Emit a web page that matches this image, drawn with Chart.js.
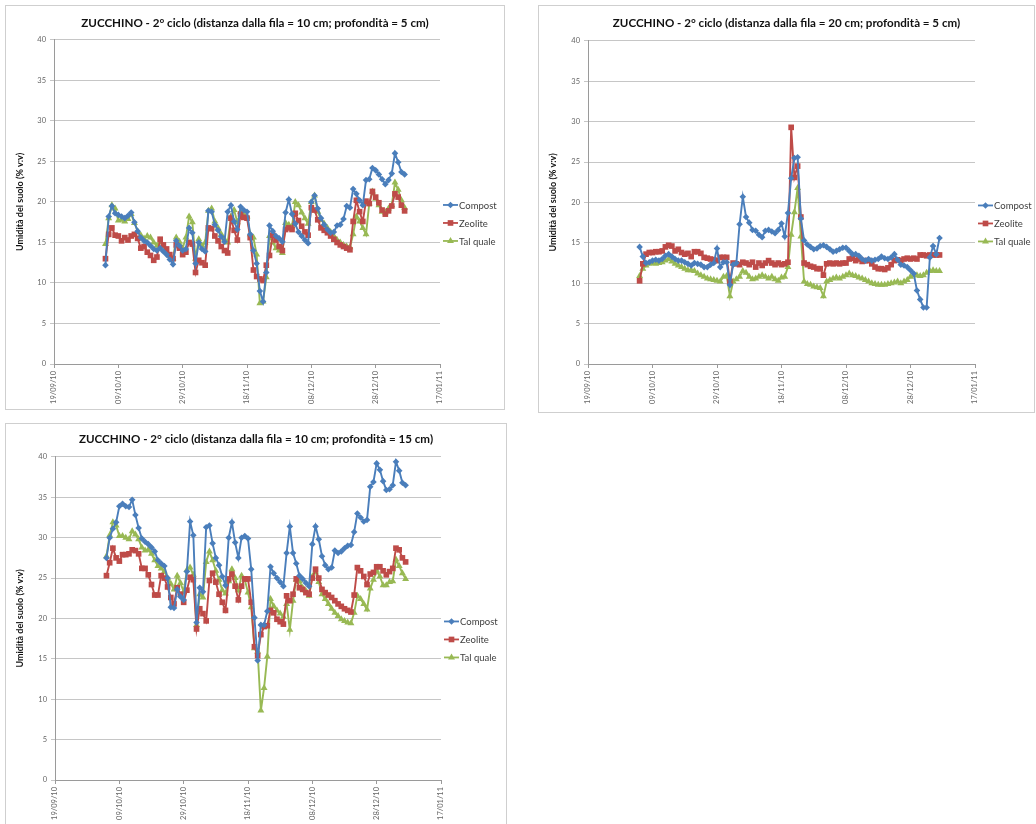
<!DOCTYPE html>
<html>
<head>
<meta charset="utf-8">
<script src="https://cdn.jsdelivr.net/npm/chart.js"></script>
<style>
  body { margin: 0; width: 1036px; height: 824px; overflow: hidden; background: #fff; position: relative; }
  .panel { position: absolute; border: 1px solid #cfcfcf; box-sizing: border-box; background: #fff; }
  .panel canvas { position: absolute; left: 0; top: 0; }
</style>
</head>
<body>
<div class="panel" style="left:5px;top:5px;width:500px;height:405px"><canvas id="c1" width="498" height="403"></canvas></div>
<div class="panel" style="left:538px;top:5px;width:497px;height:408px"><canvas id="c2" width="495" height="406"></canvas></div>
<div class="panel" style="left:5px;top:423px;width:502px;height:420px"><canvas id="c3" width="500" height="401"></canvas></div>
<script>
// date axis: one tick every 20 days
const xTickLabels = ['19/09/10', '09/10/10', '29/10/10', '18/11/10', '08/12/10', '28/12/10', '17/01/11'];
const seriesNames = ['Compost', 'Zeolite', 'Tal quale'];
const firstReading = '05/10/10';   // daily readings from here on
const yTitle = 'Umidità del suolo (% v:v)';

const titles = [
  'ZUCCHINO - 2° ciclo (distanza dalla fila = 10 cm; profondità = 5 cm)',
  'ZUCCHINO - 2° ciclo (distanza dalla fila = 20 cm; profondità = 5 cm)',
  'ZUCCHINO - 2° ciclo (distanza dalla fila = 10 cm; profondità = 15 cm)'
];

// 10 cm / 5 cm
const compost1 = [12.2, 18.2, 19.5, 18.6, 18.4, 18.2, 18.0, 18.3, 18.7, 17.5,
  16.4, 15.6, 15.2, 15.0, 14.6, 14.2, 14.0, 14.3, 13.9, 13.5,
  12.9, 12.3, 15.2, 14.6, 14.0, 14.2, 16.8, 16.2, 12.4, 15.0,
  14.2, 13.9, 18.9, 18.8, 17.2, 16.5, 15.7, 15.1, 18.8, 19.6,
  17.6, 16.6, 19.4, 19.0, 18.8, 16.0, 14.0, 12.4, 9.0, 7.7,
  11.3, 17.1, 16.4, 15.8, 15.5, 15.1, 18.7, 20.3, 18.5, 17.3,
  16.3, 15.8, 15.3, 14.9, 20.0, 20.8, 19.2, 18.0, 17.2, 16.6,
  16.2, 16.3, 17.1, 17.2, 17.9, 19.5, 19.3, 21.6, 21.0, 20.2,
  19.6, 22.7, 22.8, 24.2, 23.9, 23.4, 22.8, 22.2, 22.7, 23.5,
  26.0, 24.9, 23.7, 23.4];
const zeolite1 = [13.0, 16.0, 16.8, 15.9, 15.8, 15.2, 15.6, 15.3, 15.8, 16.0,
  15.5, 14.3, 14.5, 13.8, 13.4, 12.8, 13.2, 15.4, 14.7, 14.2,
  13.5, 13.0, 14.7, 14.3, 13.5, 13.8, 15.0, 14.8, 11.3, 12.8,
  12.5, 12.2, 16.8, 16.7, 15.8, 15.2, 14.5, 14.0, 13.7, 18.0,
  16.5, 15.3, 18.5, 18.1, 18.0, 15.6, 11.6, 10.8, 10.5, 10.3,
  12.2, 13.4, 15.9, 15.3, 14.5, 14.0, 16.6, 16.8, 16.6, 18.6,
  17.7, 17.0, 16.3, 15.9, 19.3, 19.0, 17.8, 16.8, 16.5, 16.2,
  15.8, 15.4, 15.0, 14.7, 14.5, 14.3, 14.1, 17.6, 20.2, 18.8,
  17.6, 20.1, 19.8, 21.3, 20.6, 19.9, 19.0, 18.5, 18.9, 19.5,
  21.0, 20.6, 19.6, 18.9];
const talQuale1 = [14.8, 18.0, 19.6, 19.2, 17.7, 17.8, 17.6, 17.9, 18.5, 17.4,
  16.4, 15.9, 15.5, 15.8, 15.6, 15.0, 14.6, 15.1, 14.5, 13.9,
  13.4, 13.0, 15.6, 15.1, 14.3, 15.6, 18.2, 17.5, 13.0, 15.4,
  14.6, 15.0, 18.9, 19.2, 17.6, 16.8, 16.0, 15.4, 15.0, 18.2,
  19.0, 17.5, 18.8, 18.5, 18.2, 16.0, 15.6, 13.5, 7.5, 7.7,
  10.7, 15.8, 15.0, 14.3, 14.0, 13.7, 17.4, 17.2, 17.0, 20.0,
  19.6, 18.7, 18.0, 17.3, 20.0, 20.8, 18.8, 17.8, 17.3, 16.8,
  16.3, 15.8, 15.3, 15.0, 14.7, 14.5, 14.4, 16.0, 18.2, 17.6,
  16.8, 16.0, 19.8, 21.3, 20.4, 19.6, 18.8, 18.7, 19.2, 19.6,
  22.4, 21.5, 20.2, 19.3];

// 20 cm / 5 cm
const compost2 = [14.5, 13.3, 12.5, 12.6, 12.8, 12.9, 12.8, 13.0, 13.4, 13.6,
  13.3, 13.0, 12.8, 12.8, 12.6, 12.4, 12.2, 12.5, 12.4, 12.3,
  12.0, 12.0, 12.3, 12.5, 14.3, 12.0, 12.6, 12.6, 9.8, 12.3,
  12.5, 17.3, 20.7, 18.2, 17.5, 16.6, 16.5, 16.0, 15.7, 16.5,
  16.6, 16.4, 16.2, 16.6, 17.4, 15.8, 18.7, 23.0, 25.5, 25.6,
  18.0, 15.3, 14.8, 14.5, 14.2, 14.3, 14.6, 14.7, 14.5, 14.2,
  13.9, 14.0, 14.2, 14.4, 14.4, 14.0, 13.6, 13.6, 13.4, 13.0,
  12.8, 13.0, 12.8, 12.9, 13.0, 13.3, 13.1, 13.0, 13.2, 13.6,
  12.9, 12.3, 12.2, 12.0, 11.6, 11.2, 9.1, 8.0, 7.0, 7.0,
  13.2, 14.6, 13.6, 15.6];
const zeolite2 = [10.3, 12.4, 13.6, 13.8, 13.8, 13.9, 13.9, 14.0, 14.5, 14.7,
  14.6, 14.0, 14.2, 13.8, 13.6, 13.7, 13.3, 13.9, 13.9, 13.7,
  13.2, 13.1, 13.0, 12.9, 12.8, 13.2, 13.2, 13.2, 10.2, 12.5,
  12.4, 12.3, 12.6, 12.5, 12.3, 12.6, 12.0, 12.5, 12.2, 12.5,
  12.8, 12.5, 12.3, 12.5, 12.3, 12.4, 12.6, 29.3, 23.1, 24.5,
  18.2, 12.5, 12.3, 12.1, 12.0, 11.8, 11.8, 11.0, 12.4, 12.5,
  12.4, 12.5, 12.4, 12.5, 12.5, 13.0, 13.1, 12.8, 13.0, 12.7,
  12.8, 12.8, 12.4, 12.0, 11.8, 11.8, 11.7, 11.9, 12.3, 12.8,
  12.9, 12.8, 13.0, 13.1, 13.0, 13.1, 13.0, 13.5, 13.5, 13.4,
  13.5, 13.5, 13.5, 13.5];
const talQuale2 = [10.9, 11.8, 12.2, 12.4, 12.5, 12.4, 12.5, 12.6, 12.8, 13.0,
  12.7, 12.4, 12.2, 12.0, 11.8, 11.6, 11.6, 11.5, 11.2, 11.0,
  10.8, 10.6, 10.5, 10.4, 10.3, 10.2, 10.8, 10.9, 8.4, 10.2,
  10.5, 10.8, 11.5, 11.3, 10.8, 10.5, 10.6, 10.8, 11.0, 10.8,
  10.6, 10.8, 10.5, 10.3, 10.7, 10.8, 12.0, 16.0, 18.8, 21.8,
  15.8, 10.2, 9.9, 9.8, 9.6, 9.5, 9.4, 8.4, 10.2, 10.4,
  10.6, 10.7, 10.6, 10.8, 11.0, 11.2, 11.0, 10.9, 10.7, 10.6,
  10.4, 10.2, 10.0, 9.9, 9.8, 9.8, 9.8, 9.9, 10.0, 10.1,
  10.2, 10.0, 10.2, 10.4, 10.8, 11.0, 11.0, 10.9, 11.0, 11.3,
  11.5, 11.6, 11.5, 11.5];

// 10 cm / 15 cm
const compost3 = [27.5, 30.0, 31.1, 31.9, 33.9, 34.2, 33.9, 33.8, 34.7, 32.8,
  31.2, 29.9, 29.5, 29.2, 28.8, 28.3, 27.2, 26.8, 26.5, 25.0,
  21.4, 21.3, 23.6, 22.7, 22.3, 25.8, 32.0, 30.3, 19.5, 23.8,
  23.3, 31.3, 31.5, 29.3, 27.5, 26.6, 25.2, 24.1, 30.0, 31.9,
  29.4, 27.5, 30.0, 30.2, 29.9, 26.1, 20.1, 14.8, 19.2, 19.2,
  20.9, 26.4, 25.6, 25.0, 24.5, 24.0, 28.1, 31.4, 28.1, 26.8,
  25.3, 24.9, 24.4, 24.0, 29.2, 31.4, 29.8, 27.7, 26.6, 26.1,
  26.3, 28.4, 28.1, 28.3, 28.7, 29.0, 29.1, 30.7, 33.0, 32.5,
  32.0, 32.2, 36.3, 36.9, 39.2, 38.4, 37.0, 35.9, 36.0, 36.5,
  39.4, 38.3, 36.8, 36.5];
const zeolite3 = [25.3, 26.9, 28.7, 27.5, 27.1, 27.9, 27.9, 28.0, 28.5, 28.4,
  28.0, 26.2, 26.2, 25.4, 24.2, 22.9, 22.9, 25.3, 25.0, 23.9,
  22.6, 21.8, 23.8, 23.0, 22.0, 23.5, 25.1, 24.8, 18.7, 21.2,
  20.6, 19.7, 24.7, 25.6, 24.5, 23.0, 22.0, 21.0, 24.9, 25.5,
  24.0, 22.3, 24.0, 24.9, 24.9, 22.0, 16.5, 15.4, 18.0, 19.0,
  19.1, 21.0, 20.7, 19.9, 19.6, 19.3, 22.8, 22.2, 23.0, 24.9,
  23.8, 23.6, 23.2, 23.0, 25.0, 26.1, 25.0, 23.6, 23.2, 22.9,
  22.6, 22.2, 21.8, 21.5, 21.2, 21.0, 20.8, 22.9, 26.3, 25.9,
  25.2, 24.2, 25.5, 25.7, 26.4, 26.4, 25.9, 25.4, 25.8, 26.2,
  28.7, 28.5, 27.5, 27.0];
const talQuale3 = [27.7, 30.3, 31.9, 31.5, 30.2, 30.2, 30.0, 29.8, 30.8, 30.4,
  29.8, 28.8, 28.4, 28.5, 28.0, 27.2, 26.5, 26.2, 25.8, 25.0,
  24.3, 23.6, 25.3, 24.4, 23.3, 26.0, 26.3, 25.4, 19.2, 23.0,
  22.6, 27.0, 28.3, 27.2, 25.9, 24.8, 23.5, 23.1, 24.6, 26.1,
  25.0, 23.5, 25.3, 24.8, 23.2, 21.4, 16.3, 15.9, 8.6, 11.4,
  15.3, 22.4, 21.5, 21.0, 20.6, 20.2, 21.8, 18.6, 22.2, 24.8,
  24.6, 23.8, 23.4, 22.8, 25.2, 25.8, 24.5, 23.0, 22.4, 21.8,
  21.2, 20.7, 20.3, 19.9, 19.7, 19.5, 19.4, 20.7, 22.8, 22.4,
  21.8, 21.1, 23.7, 24.8, 25.9, 25.2, 24.1, 24.1, 24.5, 24.6,
  27.3, 26.5, 25.6, 24.9];

const FONT = 'Lato, "Open Sans", sans-serif';
const colors = ['#4a7ebb', '#be4b48', '#98b954'];
const markers = ['rectRot', 'rect', 'triangle'];
const markerSize = [3.3, 4, 4];

function toDay(s) {
  const [d, m, y] = s.split('/').map(Number);
  return Date.UTC(2000 + y, m - 1, d) / 864e5;
}
const day0 = toDay(firstReading) - toDay(xTickLabels[0]);

function points(values) {
  return values.map((v, i) => ({ x: day0 + i, y: v }));
}

function drawMarker(ctx, style, x, y, r) {
  ctx.beginPath();
  if (style === 'rect') {
    const s = r * Math.SQRT1_2;
    ctx.rect(x - s, y - s, 2 * s, 2 * s);
  } else if (style === 'rectRot') {
    ctx.moveTo(x, y - r); ctx.lineTo(x + r, y); ctx.lineTo(x, y + r); ctx.lineTo(x - r, y);
    ctx.closePath();
  } else {
    const h = r * 1.5;
    ctx.moveTo(x, y - r); ctx.lineTo(x + h / Math.sqrt(3), y + r / 2); ctx.lineTo(x - h / Math.sqrt(3), y + r / 2);
    ctx.closePath();
  }
  ctx.fill();
}

// Excel-like legend: short line with the marker on it, right of the plot
const sideLegend = {
  id: 'sideLegend',
  afterDraw(chart) {
    const ctx = chart.ctx, a = chart.chartArea;
    const x0 = a.right + 3, mid = (a.top + a.bottom) / 2 + 21, gap = 18;
    ctx.save();
    chart.data.datasets.forEach((ds, i) => {
      const y = mid + (i - 1) * gap;
      ctx.strokeStyle = ds.borderColor; ctx.fillStyle = ds.borderColor; ctx.lineWidth = 1.8;
      ctx.beginPath(); ctx.moveTo(x0, y); ctx.lineTo(x0 + 15, y); ctx.stroke();
      drawMarker(ctx, ds.pointStyle, x0 + 7.5, y, ds.pointRadius);
      ctx.fillStyle = '#404040';
      ctx.font = '9.5px ' + FONT;
      ctx.textBaseline = 'middle';
      ctx.fillText(ds.label, x0 + 16, y + 0.5);
    });
    ctx.restore();
  }
};

function makeChart(id, title, series, g) {
  const canvas = document.getElementById(id);
  const W = canvas.width, H = canvas.height;
  new Chart(canvas, {
    type: 'line',
    data: {
      datasets: series.map((vals, i) => ({
        label: seriesNames[i],
        data: points(vals),
        borderColor: colors[i],
        backgroundColor: colors[i],
        borderWidth: 1.9,
        pointStyle: markers[i],
        pointRadius: markerSize[i],
        pointBorderWidth: 0,
        tension: 0
      }))
    },
    options: {
      responsive: false,
      animation: false,
      devicePixelRatio: 1,
      layout: { padding: 0 },
      plugins: {
        legend: { display: false },
        tooltip: { enabled: false },
        title: {
          display: true, text: title, color: '#111',
          font: { family: FONT, size: 11.6, weight: 'bold' },
          padding: { top: g.titleY - 7, bottom: g.top - g.titleY - 7 }
        }
      },
      scales: {
        x: {
          type: 'linear', min: 0, max: 120,
          afterFit: s => { s.height = H - g.bottom; },
          ticks: {
            stepSize: 20, autoSkip: false, minRotation: 90, maxRotation: 90,
            padding: 3, color: '#666', font: { family: FONT, size: 7.5 },
            callback: v => xTickLabels[v / 20]
          },
          grid: { drawOnChartArea: false, drawTicks: true, tickLength: 4, color: '#9a9a9a' },
          border: { color: '#9a9a9a', width: 1 }
        },
        y: {
          min: 0, max: 40,
          afterFit: s => { s.width = g.left; },
          ticks: { stepSize: 5, padding: 4, color: '#666', font: { family: FONT, size: 7.5 } },
          grid: { color: '#c6c6c6', lineWidth: 1, tickLength: 4, drawTicks: true },
          border: { color: '#9a9a9a', width: 1 },
          title: {
            display: true, text: yTitle, color: '#111',
            font: { family: FONT, size: 9, weight: 'bold' },
            padding: { top: 8.5, bottom: 0 }
          }
        },
        // empty right-hand box that keeps room for the legend
        legendSpace: {
          position: 'right', display: true,
          afterFit: s => { s.width = W - g.right; },
          ticks: { display: false },
          grid: { display: false },
          border: { display: false }
        }
      }
    },
    plugins: [sideLegend]
  });
}

makeChart('c1', titles[0], [compost1, zeolite1, talQuale1], { left: 48, right: 434, top: 34, bottom: 358, titleY: 17 });
makeChart('c2', titles[1], [compost2, zeolite2, talQuale2], { left: 49, right: 436, top: 35, bottom: 358, titleY: 17 });
makeChart('c3', titles[2], [compost3, zeolite3, talQuale3], { left: 49, right: 435, top: 33, bottom: 356, titleY: 15 });
</script>
</body>
</html>
